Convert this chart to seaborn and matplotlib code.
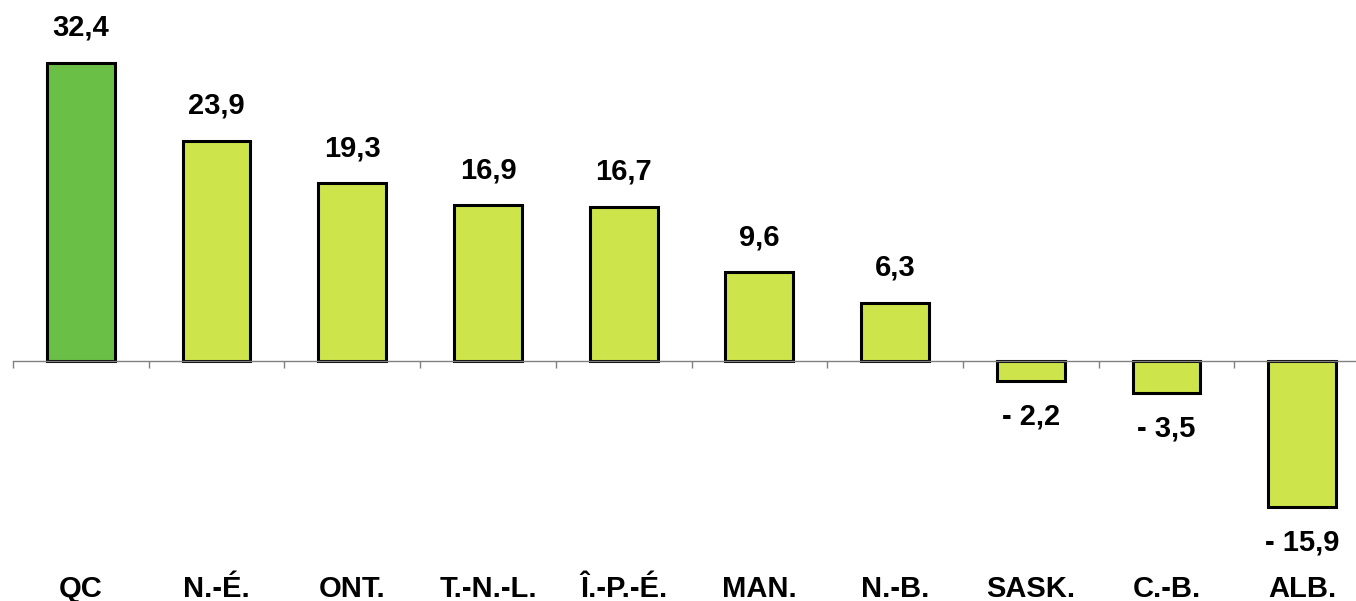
import matplotlib
matplotlib.use("Agg")
import matplotlib.pyplot as plt
import seaborn as sns

provinces = ['QC', 'N.-É.', 'ONT.', 'T.-N.-L.', 'Î.-P.-É.', 'MAN.', 'N.-B.', 'SASK.', 'C.-B.', 'ALB.']
values = [32.4, 23.9, 19.3, 16.9, 16.7, 9.6, 6.3, -2.2, -3.5, -15.9]
bar_colors = ['#6ABF47'] + ['#CDE54B'] * 9

sns.set_style("white")
plt.rcParams['font.family'] = ['Liberation Sans', 'DejaVu Sans']

fig = plt.figure(figsize=(13.56, 6.01), dpi=100)
ax = fig.add_axes([0, 0, 1, 1])

sns.barplot(x=provinces, y=values, hue=provinces, palette=bar_colors, legend=False,
            width=0.5, edgecolor='black', linewidth=2.2, saturation=1, ax=ax)

# pixel scale: category step ~135.7px, first boundary at x=13
step = 135.7
left = -0.5 - 13 / step
ax.set_xlim(left, left + 1356 / step)
ax.set_ylim(-26.1, 39.2)

for s in ['top', 'right', 'left']:
    ax.spines[s].set_visible(False)
ax.spines['bottom'].set_position(('data', 0))
ax.spines['bottom'].set_color('#808080')
ax.spines['bottom'].set_linewidth(1)
ax.spines['bottom'].set_bounds(-0.5, 9.5)
ax.set_yticks([])
ax.set_xticks([i - 0.5 for i in range(len(provinces))])
ax.set_xticklabels([])
ax.tick_params(axis='x', direction='out', length=5, width=1, color='#808080', bottom=True)

for i, v in enumerate(values):
    if v >= 0:
        txt = f"{v:.1f}".replace('.', ',')
        ax.annotate(txt, (i, v), xytext=(0, 19.5), textcoords='offset points',
                    ha='center', va='baseline', fontsize=21, fontweight='bold', color='black')
    else:
        txt = "- " + f"{abs(v):.1f}".replace('.', ',')
        ax.annotate(txt, (i, v), xytext=(0, -31), textcoords='offset points',
                    ha='center', va='baseline', fontsize=21, fontweight='bold', color='black')

for i, p in enumerate(provinces):
    ax.text(i, 1 - 597 / 601, p, transform=ax.get_xaxis_transform(),
            ha='center', va='baseline', fontsize=21, fontweight='bold', color='black')

fig.savefig('out.png', dpi=100)
